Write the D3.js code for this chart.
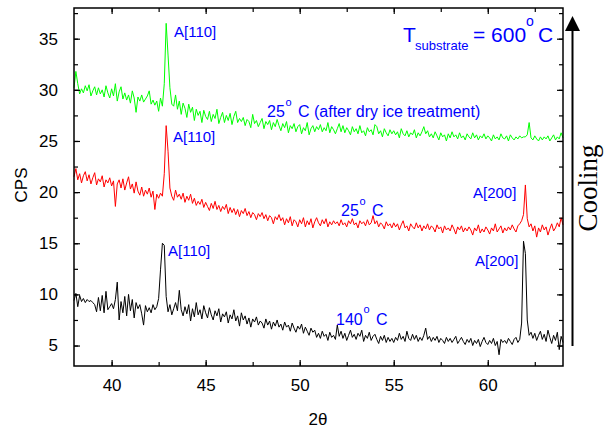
<!DOCTYPE html>
<html>
<head>
<meta charset="utf-8">
<script src="https://cdn.jsdelivr.net/npm/d3@7/dist/d3.min.js"></script>
<style>
  html, body { margin: 0; padding: 0; background: #fff; }
  svg { display: block; }
</style>
</head>
<body>
<svg id="chart" width="605" height="430"></svg>
<script>
// 2θ scan: 38.0° to 64.0° in 0.1° steps
const twoTheta = d3.range(0, 261).map(i => +(38 + i * 0.1).toFixed(1));

// 25 °C after dry-ice treatment (green)
const cps25Dry = [
  30.2, 31.8, 30.6, 29.6, 30.1, 29.7, 30.4, 29.9, 30.5, 29.4,
  29.9, 30.3, 29.5, 30.2, 29.6, 30.0, 29.3, 30.4, 29.7, 29.2,
  30.1, 29.4, 30.6, 28.9, 29.8, 30.3, 29.1, 29.7, 29.0, 29.5,
  28.7, 29.9, 29.2, 27.8, 29.3, 28.9, 29.5, 28.8, 29.1, 29.4,
  29.9, 28.6, 29.0, 28.5, 28.9, 27.9, 29.2, 28.4, 30.6, 36.5,
  33.4, 30.2, 28.6, 28.4, 29.5, 28.1, 28.9, 27.6, 28.7, 28.2,
  27.3, 28.6, 27.8, 28.3, 27.0, 28.1, 27.5, 27.9, 26.8, 28.0,
  27.4, 27.1, 27.9, 26.9, 27.6, 27.2, 28.1, 26.7, 27.3, 27.8,
  26.8, 27.5, 27.0, 27.7, 26.6, 27.4, 27.9, 26.8, 27.2, 26.9,
  27.3, 26.5, 27.1, 26.9, 26.3, 27.6, 26.7, 27.0, 26.4, 26.8,
  27.2, 26.2, 26.9, 26.6, 27.0, 26.1, 26.8, 26.4, 27.1, 26.5,
  26.0, 26.7, 26.3, 26.9, 25.8, 26.5, 26.2, 26.7, 25.9, 26.4,
  26.6, 25.7, 26.3, 26.0, 26.8, 25.6, 26.2, 26.5, 25.9, 26.4,
  26.1, 26.6, 25.9, 26.3, 26.0, 26.8, 25.8, 26.4, 26.1, 25.7,
  26.2, 26.7, 25.9, 26.5, 25.8, 26.3, 26.0, 25.6, 26.4, 25.9,
  26.2, 25.7, 26.5, 25.8, 26.0, 25.5, 26.3, 25.9, 26.1, 25.6,
  26.6, 26.4, 25.7, 26.0, 25.4, 26.2, 25.8, 25.5, 26.1, 25.7,
  26.0, 25.6, 25.9, 25.3, 26.2, 25.7, 25.5, 26.0, 25.4, 25.8,
  25.6, 26.1, 25.3, 25.8, 25.5, 25.9, 26.4, 25.7, 26.0, 25.4,
  25.7, 25.3, 25.9, 25.5, 25.1, 25.8, 25.4, 25.6, 25.0, 25.7,
  25.3, 25.9, 25.4, 25.6, 25.2, 25.8, 25.3, 25.5, 25.1, 25.7,
  25.4, 25.2, 25.8, 25.3, 25.6, 25.1, 25.5, 25.3, 25.7, 25.2,
  25.5, 25.3, 25.0, 25.6, 25.2, 25.4, 25.1, 25.7, 25.3, 25.2,
  25.5, 25.0, 25.6, 25.3, 25.1, 25.4, 25.2, 25.5, 25.3, 25.4,
  25.4, 25.6, 26.8, 25.3, 25.1, 25.5, 25.2, 25.0, 25.4, 25.1,
  25.4, 25.2, 25.5, 25.0, 25.3, 25.6, 25.1, 25.4, 25.2, 25.8,
  25.3
];

// 25 °C (red)
const cps25 = [
  21.5, 22.3, 21.2, 21.8, 20.9, 21.6, 22.0, 21.1, 21.7, 20.8,
  21.4, 21.9, 20.7, 21.3, 21.0, 21.6, 20.5, 21.2, 20.9, 21.4,
  20.6, 21.1, 18.6, 20.8, 21.2, 20.4, 21.3, 20.2, 20.9, 21.5,
  20.3, 20.8, 19.9, 21.0, 20.1, 19.7, 20.5, 19.6, 20.2, 19.8,
  20.4, 19.5, 20.1, 18.3, 19.8, 19.4, 19.9, 19.6, 21.8, 26.5,
  24.0, 20.4, 19.6, 19.2, 20.2, 19.5, 19.8, 19.3, 19.9, 19.0,
  19.6, 19.2, 19.8, 18.9, 19.4, 18.7, 19.1, 18.8, 19.3, 18.5,
  19.0, 18.6, 18.2, 18.9, 18.4, 19.1, 18.3, 18.7, 18.1, 18.6,
  18.3, 18.8, 17.9, 18.5, 18.0, 18.4, 17.8, 18.3, 17.6, 18.2,
  17.9, 18.4, 17.7, 18.1, 17.5, 18.0, 17.8, 17.3, 17.9, 17.6,
  18.0, 17.4, 17.8, 17.2, 17.7, 17.5, 16.9, 17.6, 17.3, 17.8,
  17.2, 17.5, 16.8, 17.4, 17.0, 17.6, 16.7, 17.3, 17.1, 16.6,
  17.3, 16.9, 17.5, 16.6, 17.2, 16.8, 17.4, 16.5, 17.1, 17.5,
  17.0, 16.7, 17.3, 16.9, 17.4, 16.6, 17.1, 16.8, 17.2, 16.9,
  17.1, 16.7, 17.3, 16.8, 17.0, 16.6, 17.2, 16.9, 17.4, 16.8,
  17.0, 16.5, 17.2, 16.9, 17.1, 16.7, 17.3, 16.8, 17.0, 17.7,
  16.9, 17.2, 16.6, 17.0, 16.8, 16.4, 17.1, 16.7, 16.9, 16.5,
  17.0, 16.6, 16.9, 16.3, 16.8, 17.2, 16.5, 16.7, 16.2, 16.9,
  16.6, 16.4, 17.0, 16.5, 16.8, 16.2, 16.7, 16.4, 16.9, 16.3,
  16.7, 16.5, 16.1, 16.8, 16.4, 16.6, 16.0, 16.7, 16.3, 16.5,
  16.2, 16.8, 16.4, 15.9, 16.6, 16.3, 16.7, 16.1, 16.5, 16.2,
  16.6, 16.3, 15.8, 16.5, 16.2, 16.8, 16.0, 16.4, 16.1, 16.6,
  16.3, 15.9, 16.5, 16.2, 16.9, 16.1, 16.4, 16.7, 16.0, 16.5,
  16.2, 16.6, 16.3, 16.8, 16.4, 16.1, 16.7, 16.9, 17.2, 17.8,
  20.7, 17.4, 16.6, 16.9, 16.2, 16.7, 15.6, 16.5, 16.1, 16.8,
  16.3, 16.6, 15.8, 16.4, 16.9, 16.2, 16.5, 17.0, 16.6, 17.5,
  16.8
];

// 140 °C (black)
const cps140 = [
  9.4, 10.1, 8.8, 9.9, 9.3, 9.6, 9.2, 9.5, 9.3, 9.4,
  9.2, 9.0, 8.3, 9.7, 8.4, 9.9, 8.2, 10.3, 8.5, 8.8,
  9.1, 8.6, 9.5, 11.2, 7.5, 9.3, 8.2, 9.8, 7.9, 10.0,
  8.4, 9.5, 7.7, 9.2, 8.6, 9.0, 8.1, 7.0, 8.9, 8.3,
  8.7, 8.2, 9.0, 8.5, 8.8, 9.6, 12.4, 15.0, 14.8, 9.8,
  8.3, 9.0, 8.0, 8.6, 9.2, 8.4, 10.4, 8.5, 7.9, 8.8,
  8.1, 9.0, 7.4, 8.6, 7.8, 9.2, 8.0, 8.5, 7.6, 8.9,
  8.2, 7.7, 8.7, 8.0, 7.5, 8.4, 7.9, 8.6, 7.3, 8.1,
  7.8, 8.3, 7.2, 8.0, 7.6, 8.5, 7.4, 7.9, 6.9, 8.2,
  7.5, 7.9, 7.1, 7.7, 6.8, 7.6, 7.3, 7.8, 7.0, 7.4,
  7.2, 6.7, 7.6, 7.0, 7.4, 6.6, 7.3, 6.9, 7.5, 6.8,
  7.1, 6.5, 7.3, 6.8, 7.0, 6.4, 7.2, 6.7, 6.3, 6.9,
  6.6, 7.1, 6.2, 6.8, 6.4, 6.0, 6.7, 6.3, 6.5, 5.8,
  6.2, 5.7, 6.4, 5.9, 6.1, 5.5, 6.3, 5.8, 6.0, 5.6,
  7.0, 5.9, 6.4, 5.7, 6.2, 5.5, 6.0, 6.5, 5.8, 6.1,
  5.6, 6.2, 5.9, 6.5, 5.4, 6.0, 5.7, 6.3, 5.5, 5.9,
  6.1, 5.6, 5.2, 5.9, 5.5, 6.0, 5.3, 5.8, 5.4, 5.7,
  5.3, 5.8, 5.5, 6.2, 5.6, 5.9, 5.4, 6.4, 5.7, 5.5,
  6.1, 5.6, 6.0, 5.4, 5.8, 5.5, 6.0, 6.7, 5.6, 5.9,
  5.4, 5.8, 5.5, 5.9, 5.3, 5.7, 5.5, 5.2, 5.8, 5.4,
  5.7, 5.3, 5.6, 5.9, 5.2, 5.5, 5.8, 5.4, 5.1, 5.6,
  5.3, 5.7, 5.0, 5.5, 5.2, 5.6, 4.9, 5.4, 5.8, 5.3,
  5.1, 5.5, 5.2, 5.7, 5.0, 5.4, 4.1, 5.6, 5.3, 5.5,
  5.2, 5.7, 5.4, 5.1, 5.6, 5.8, 5.3, 5.6, 7.2, 15.2,
  14.0, 7.5, 6.0, 6.3, 5.7, 6.2, 5.5, 6.0, 6.4, 5.6,
  6.1, 5.4, 6.5, 5.8, 5.2, 6.0, 5.5, 6.3, 4.6, 5.9,
  5.3
];

const xTicks = [40, 45, 50, 55, 60];
const yTicks = [5, 10, 15, 20, 25, 30, 35];
const xMinorTicks = [40, 42.5, 45, 47.5, 50, 52.5, 55, 57.5, 60, 62.5];
const yMinorTicks = [5, 7.5, 10, 12.5, 15, 17.5, 20, 22.5, 25, 27.5, 30, 32.5, 35, 37.5];

const svg = d3.select("#chart");
const font = "'Liberation Sans', Arial, sans-serif";
const blue = "#0000ff";

const plotL = 74, plotR = 563, plotT = 8, plotB = 366;
const x = d3.scaleLinear().domain([38, 64]).range([plotL, plotR]);
const y = d3.scaleLinear().domain([3, 38]).range([plotB, plotT]);

// traces
const line = d3.line().x((d, i) => x(twoTheta[i])).y(d => y(d));
[[cps25Dry, "#00ff00"], [cps25, "#ff0000"], [cps140, "#000000"]].forEach(([vals, col]) => {
  svg.append("path")
    .attr("d", line(vals))
    .attr("fill", "none")
    .attr("stroke", col)
    .attr("stroke-width", 1)
    .attr("stroke-linejoin", "round");
});

// axes with inward ticks on all four sides
function styleAxis(g) {
  g.select(".domain").remove();
  g.selectAll(".tick line").attr("stroke", "#000").attr("stroke-width", 1.2);
  g.selectAll(".tick text").attr("font-family", font).attr("font-size", 17).attr("fill", "#000");
}
const bottomAxis = svg.append("g").attr("transform", `translate(0,${plotB})`)
  .call(d3.axisBottom(x).tickValues(xTicks).tickFormat(d3.format("d")).tickSizeInner(-6).tickPadding(13));
styleAxis(bottomAxis);
const bottomMinor = svg.append("g").attr("transform", `translate(0,${plotB})`)
  .call(d3.axisBottom(x).tickValues(xMinorTicks).tickFormat("").tickSizeInner(-4));
styleAxis(bottomMinor);
const topMinor = svg.append("g").attr("transform", `translate(0,${plotT})`)
  .call(d3.axisTop(x).tickValues(xMinorTicks).tickFormat("").tickSizeInner(-4));
styleAxis(topMinor);
const topMajor = svg.append("g").attr("transform", `translate(0,${plotT})`)
  .call(d3.axisTop(x).tickValues(xTicks).tickFormat("").tickSizeInner(-6));
styleAxis(topMajor);

const leftAxis = svg.append("g").attr("transform", `translate(${plotL},0)`)
  .call(d3.axisLeft(y).tickValues(yTicks).tickFormat(d3.format("d")).tickSizeInner(-6).tickPadding(16));
styleAxis(leftAxis);
const leftMinor = svg.append("g").attr("transform", `translate(${plotL},0)`)
  .call(d3.axisLeft(y).tickValues(yMinorTicks).tickFormat("").tickSizeInner(-4));
styleAxis(leftMinor);
const rightMinor = svg.append("g").attr("transform", `translate(${plotR},0)`)
  .call(d3.axisRight(y).tickValues(yMinorTicks).tickFormat("").tickSizeInner(-4));
styleAxis(rightMinor);
const rightMajor = svg.append("g").attr("transform", `translate(${plotR},0)`)
  .call(d3.axisRight(y).tickValues(yTicks).tickFormat("").tickSizeInner(-6));
styleAxis(rightMajor);

// frame
svg.append("rect")
  .attr("x", plotL).attr("y", plotT)
  .attr("width", plotR - plotL).attr("height", plotB - plotT)
  .attr("fill", "none").attr("stroke", "#000").attr("stroke-width", 1.5);

// axis titles
svg.append("text").attr("x", 318).attr("y", 425)
  .attr("text-anchor", "middle").attr("font-family", font).attr("font-size", 17)
  .text("2θ");
svg.append("text").attr("transform", "translate(27,185) rotate(-90)")
  .attr("text-anchor", "middle").attr("font-family", font).attr("font-size", 17)
  .text("CPS");

// peak and trace labels
function label(tx, ty, txt, size) {
  svg.append("text").attr("x", tx).attr("y", ty)
    .attr("font-family", font).attr("font-size", size || 15).attr("fill", blue)
    .text(txt);
}
label(174, 37, "A[110]");
label(173, 142, "A[110]");
label(168, 256, "A[110]");
label(473, 198, "A[200]");
label(475, 266, "A[200]");

// temperature labels with a raised degree sign
function tempLabel(tx, ty, num, degX, degY, cX, rest, size) {
  label(tx, ty, num, size);
  label(degX, degY, "o", 11);
  label(cX, ty, "C" + (rest || ""), size);
}
tempLabel(267, 117, "25", 285.5, 106, 298, " (after dry ice treatment)", 16);
tempLabel(341, 216, "25", 359.5, 205, 372, "", 16);
tempLabel(336, 325, "140", 363.5, 313, 376, "", 16);

// substrate temperature
label(403, 42, "T", 21);
label(415, 50, "substrate", 13);
label(473, 42, "= 600", 21);
label(526, 26, "o", 14);
label(538, 42, "C", 21);

// cooling arrow
svg.append("line")
  .attr("x1", 572.5).attr("x2", 572.5).attr("y1", 346).attr("y2", 28)
  .attr("stroke", "#000").attr("stroke-width", 2);
svg.append("path")
  .attr("d", "M572.5,16 L565,31 L580,31 Z")
  .attr("fill", "#000");
svg.append("text").attr("transform", "translate(597,188) rotate(-90)")
  .attr("text-anchor", "middle").attr("font-family", "'Liberation Serif', 'Times New Roman', serif")
  .attr("font-size", 27).text("Cooling");
</script>
</body>
</html>
